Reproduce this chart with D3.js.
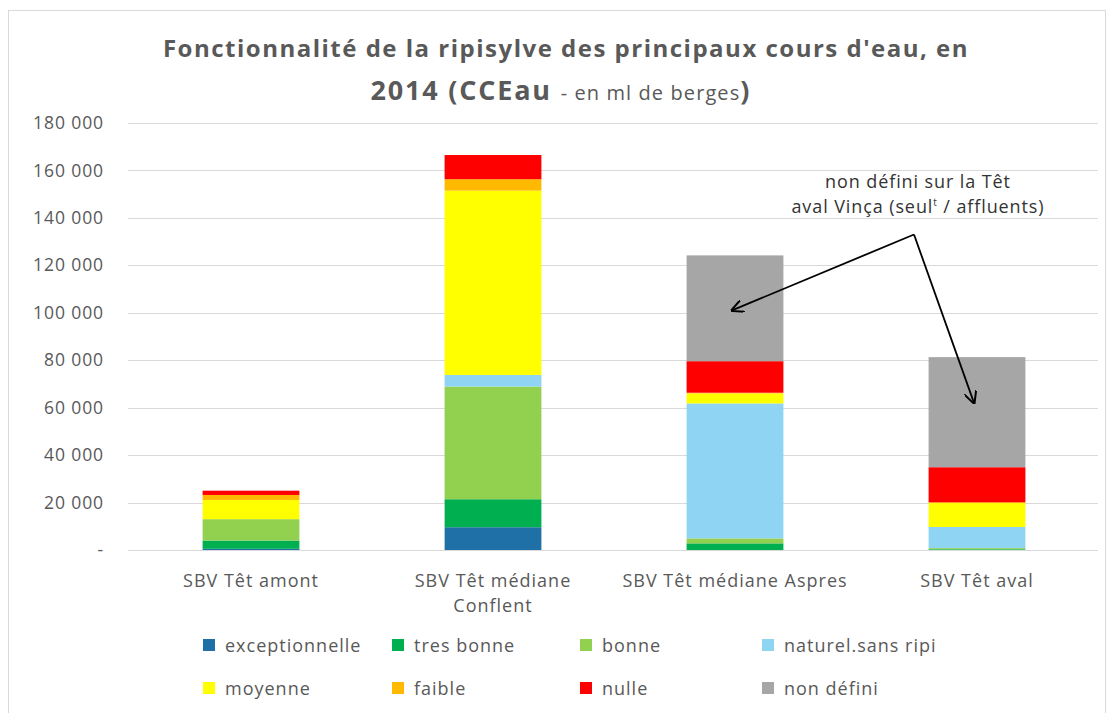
<!DOCTYPE html>
<html>
<head>
<meta charset="utf-8">
<script src="https://cdn.jsdelivr.net/npm/d3@7"></script>
<style>
  body { margin: 0; background: #fff; }
  text { font-family: "Open Sans", "Noto Sans", sans-serif; }
</style>
</head>
<body>
<svg id="chart" width="1110" height="713"></svg>
<script>
// categories (x axis)
var categories = ["SBV Têt amont", "SBV Têt médiane Conflent", "SBV Têt médiane Aspres", "SBV Têt aval"];
var categoryLines = [["SBV Têt amont"], ["SBV Têt médiane", "Conflent"], ["SBV Têt médiane Aspres"], ["SBV Têt aval"]];

// series values, in ml de berges
var exceptionnelle = [500, 9600, 0, 0];
var tresBonne = [3500, 11800, 2800, 300];
var bonne = [9000, 47500, 2100, 500];
var naturel = [0, 4900, 56900, 8900];
var moyenne = [8100, 77700, 4200, 10100];
var faible = [2100, 4800, 300, 300];
var nulle = [1800, 10200, 13300, 14800];
var nonDefini = [0, 0, 44600, 46400];

var seriesNames = ["exceptionnelle", "tres bonne", "bonne", "naturel.sans ripi", "moyenne", "faible", "nulle", "non défini"];
var seriesColors = ["#1f70a6", "#00b050", "#92d050", "#8fd4f2", "#ffff00", "#ffb900", "#ff0000", "#a6a6a6"];
var yTicks = [0, 20000, 40000, 60000, 80000, 100000, 120000, 140000, 160000, 180000];

var allSeries = [exceptionnelle, tresBonne, bonne, naturel, moyenne, faible, nulle, nonDefini];

// build rows for d3.stack
var rows = categories.map(function (c, i) {
  var r = { cat: c };
  seriesNames.forEach(function (s, k) { r[s] = allSeries[k][i]; });
  return r;
});

var svg = d3.select("#chart");
var W = 1110, H = 713;
var m = { left: 130, right: 12, top: 123, bottom: 163 };

// chart frame
svg.append("rect")
  .attr("x", 8.5).attr("y", 10.5)
  .attr("width", W - 13).attr("height", H - 10)
  .attr("fill", "#fff").attr("stroke", "#d9d9d9");

var x = d3.scaleBand().domain(categories).range([m.left, W - m.right]).paddingInner(0.6).paddingOuter(0.3);
var y = d3.scaleLinear().domain([0, 180000]).range([H - m.bottom, m.top]);

// gridlines
svg.append("g").selectAll("line")
  .data(yTicks).enter().append("line")
  .attr("x1", m.left - 2).attr("x2", W - m.right)
  .attr("y1", function (d) { return Math.round(y(d)) + 0.5; })
  .attr("y2", function (d) { return Math.round(y(d)) + 0.5; })
  .attr("stroke", "#d9d9d9").attr("stroke-width", 1);

// y axis labels
var fmt = function (d) { return d === 0 ? "-" : d3.format(",")(d).replace(/,/g, " "); };
var yAxis = d3.axisLeft(y).tickValues(yTicks).tickFormat(fmt).tickSize(0).tickPadding(0);
var ya = svg.append("g").attr("transform", "translate(104,0)").call(yAxis);
ya.select(".domain").remove();
ya.selectAll("text").attr("font-size", 17.5).attr("fill", "#595959")
  .attr("letter-spacing", 0.9)
  .style("font-family", "'Open Sans', sans-serif");

// stacked bars
var stack = d3.stack().keys(seriesNames);
var layers = stack(rows);
svg.append("g").selectAll("g")
  .data(layers).enter().append("g")
  .attr("fill", function (d, i) { return seriesColors[i]; })
  .selectAll("rect")
  .data(function (d) { return d; }).enter().append("rect")
  .attr("x", function (d) { return x(d.data.cat); })
  .attr("width", x.bandwidth())
  .attr("y", function (d) { return y(d[1]); })
  .attr("height", function (d) { return y(d[0]) - y(d[1]); });

// x category labels
var xl = svg.append("g").selectAll("text")
  .data(categories).enter().append("text")
  .attr("x", function (d) { return x(d) + x.bandwidth() / 2; })
  .attr("y", 587)
  .attr("text-anchor", "middle")
  .attr("font-size", 18).attr("letter-spacing", 1).attr("fill", "#595959");
xl.each(function (d, i) {
  var t = d3.select(this);
  categoryLines[i].forEach(function (line, j) {
    t.append("tspan").attr("x", x(d) + x.bandwidth() / 2).attr("dy", j === 0 ? 0 : 25).text(line);
  });
});

// title
var title = svg.append("text").attr("text-anchor", "middle").attr("fill", "#595959");
title.append("tspan").attr("x", 566).attr("y", 57)
  .attr("font-size", 24).attr("font-weight", "bold").attr("letter-spacing", 1.5)
  .text("Fonctionnalité de la ripisylve des principaux cours d'eau, en");
title.append("tspan").attr("x", 560).attr("y", 100)
  .attr("font-size", 27).attr("font-weight", "bold").attr("letter-spacing", 1.8).text("2014 (CCEau ");
title.append("tspan").attr("font-size", 20).attr("letter-spacing", 1.1).text(" - en ml de berges");
title.append("tspan").attr("font-size", 27).attr("font-weight", "bold").text(")");

// legend
var legendX = [203, 392, 580, 762];
var legendY = [645, 688];
var lg = svg.append("g").selectAll("g")
  .data(seriesNames).enter().append("g")
  .attr("transform", function (d, i) { return "translate(" + legendX[i % 4] + "," + legendY[Math.floor(i / 4)] + ")"; });
lg.append("rect").attr("x", 0).attr("y", -6).attr("width", 12).attr("height", 12)
  .attr("fill", function (d, i) { return seriesColors[i]; });
lg.append("text").attr("x", 22).attr("y", 6.5)
  .attr("font-size", 18).attr("letter-spacing", 1).attr("fill", "#595959")
  .text(function (d) { return d; });

// annotation
var ann = svg.append("text").attr("text-anchor", "middle").attr("fill", "#333333")
  .attr("font-size", 18).attr("letter-spacing", 0.9);
ann.append("tspan").attr("x", 918).attr("y", 188).text("non défini sur la Têt");
ann.append("tspan").attr("x", 918).attr("y", 213).text("aval Vinça (seul");
ann.append("tspan").attr("font-size", 10).attr("dy", -7).text("t");
ann.append("tspan").attr("dy", 7).text(" / affluents)");

svg.append("defs").append("marker")
  .attr("id", "arr").attr("viewBox", "0 0 10 10").attr("refX", 9).attr("refY", 5)
  .attr("markerWidth", 7).attr("markerHeight", 7).attr("orient", "auto")
  .append("path").attr("d", "M0,0 L10,5 L0,10").attr("fill", "none").attr("stroke", "#000").attr("stroke-width", 1.6);

var ox = x(categories[3]) + x.bandwidth() / 2 - 63, oy = y(133000);
var targets = [
  [x(categories[2]) + x.bandwidth() / 2 - 3, y(101000)],
  [x(categories[3]) + x.bandwidth() / 2 - 3, y(62000)]
];
svg.append("g").selectAll("line").data(targets).enter().append("line")
  .attr("x1", ox).attr("y1", oy)
  .attr("x2", function (d) { return d[0]; }).attr("y2", function (d) { return d[1]; })
  .attr("stroke", "#000").attr("stroke-width", 1.8)
  .attr("marker-end", "url(#arr)");
</script>
</body>
</html>
